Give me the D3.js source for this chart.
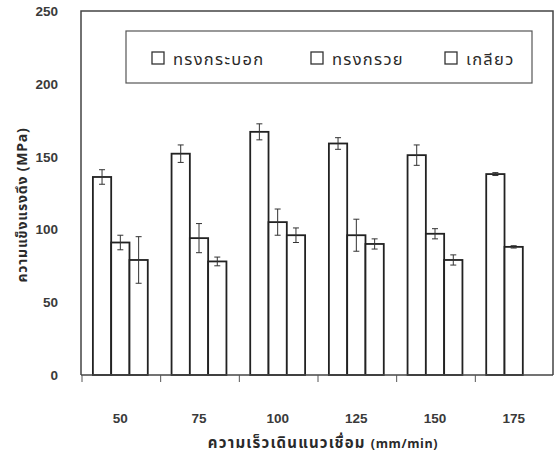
<!DOCTYPE html>
<html>
<head>
<meta charset="utf-8">
<script src="https://cdn.jsdelivr.net/npm/d3@7"></script>
<style>
  body { margin: 0; background: #fff; }
  .tick-label { font-family: "Liberation Sans", Arial, sans-serif; font-weight: bold; font-size: 13.5px; fill: #3a3a3a; }
  .thai { font-family: "Noto Sans Thai", "Loma", "Garuda", "Noto Sans", sans-serif; fill: #2a2a2a; }
</style>
</head>
<body>
<div id="chart"></div>
<script>

// data
var speeds = ["50", "75", "100", "125", "150", "175"];
var seriesNames = ["ทรงกระบอก", "ทรงกรวย", "เกลียว"];
var cylinder    = [136, 152, 167, 159, 151, 138];
var cylinderErr = [5, 6, 5.5, 4, 7, 1];
var cone        = [91, 94, 105, 96, 97, 88];
var coneErr     = [5, 10, 9, 11, 3.5, 0.8];
var thread      = [79, 78, 96, 90, 79, null];
var threadErr   = [16, 3, 5, 3.5, 3.5, null];
var yTicks = [0, 50, 100, 150, 200, 250];

var values = [cylinder, cone, thread],
    errors = [cylinderErr, coneErr, threadErr];

//--------------------------------------------------------------------------
//
// geometry
//

var outerWidth = 556,
    outerHeight = 455,
    frame = {left: 81, right: 553, top: 11, bottom: 375};

var svg = d3.select("#chart").append("svg")
    .attr("width", outerWidth)
    .attr("height", outerHeight);

var x0 = d3.scaleBand()
    .domain(speeds)
    .range([frame.left, frame.right]);

var x1 = d3.scaleBand()
    .domain(seriesNames)
    .range([0, x0.bandwidth()])
    .paddingOuter(0.65);

var y = d3.scaleLinear()
    .domain([0, 250])
    .range([frame.bottom, frame.top]);

// flatten into one row per bar
var rows = [];
speeds.forEach(function (s, i) {
    seriesNames.forEach(function (name, k) {
        if (values[k][i] == null) { return; }
        rows.push({speed: s, series: name, value: values[k][i], err: errors[k][i]});
    });
});

//--------------------------------------------------------------------------
//
// bars
//

var bars = svg.append("g").attr("class", "bars");

bars.selectAll("rect")
    .data(rows)
    .enter().append("rect")
    .attr("x", function (d) { return x0(d.speed) + x1(d.series); })
    .attr("y", function (d) { return y(d.value); })
    .attr("width", x1.bandwidth())
    .attr("height", function (d) { return y(0) - y(d.value); })
    .attr("fill", "#fff")
    .attr("stroke", "#222")
    .attr("stroke-width", 1.8);

// error bars
var eb = svg.append("g").attr("class", "errors")
    .attr("stroke", "#333")
    .attr("stroke-width", 1);

var ebs = eb.selectAll("g")
    .data(rows)
    .enter().append("g")
    .attr("transform", function (d) {
        return "translate(" + (x0(d.speed) + x1(d.series) + x1.bandwidth() / 2) + ",0)";
    });

ebs.append("line")
    .attr("y1", function (d) { return y(d.value + d.err); })
    .attr("y2", function (d) { return y(d.value - d.err); });
ebs.append("line")
    .attr("x1", -3).attr("x2", 3)
    .attr("y1", function (d) { return y(d.value + d.err); })
    .attr("y2", function (d) { return y(d.value + d.err); });
ebs.append("line")
    .attr("x1", -3).attr("x2", 3)
    .attr("y1", function (d) { return y(d.value - d.err); })
    .attr("y2", function (d) { return y(d.value - d.err); });

//--------------------------------------------------------------------------
//
// frame and axes
//

svg.append("path")
    .attr("d", "M" + frame.left + "," + frame.bottom + "V" + frame.top +
               "H" + frame.right + "V" + frame.bottom)
    .attr("fill", "none")
    .attr("stroke", "#444")
    .attr("stroke-width", 1.5);

var xAxis = svg.append("g")
    .attr("transform", "translate(0," + frame.bottom + ")");

xAxis.append("line")
    .attr("x1", frame.left).attr("x2", frame.right)
    .attr("stroke", "#444").attr("stroke-width", 1.5);

// ticks sit between groups
xAxis.selectAll(".tk")
    .data(speeds)
    .enter().append("line")
    .attr("class", "tk")
    .attr("x1", function (d) { return x0(d) + 1; })
    .attr("x2", function (d) { return x0(d) + 1; })
    .attr("y1", 0).attr("y2", 7)
    .attr("stroke", "#555").attr("stroke-width", 1);

xAxis.selectAll(".tick-label")
    .data(speeds)
    .enter().append("text")
    .attr("class", "tick-label")
    .attr("x", function (d) { return x0(d) + x0.bandwidth() / 2; })
    .attr("y", 48)
    .attr("text-anchor", "middle")
    .text(function (d) { return d; });

svg.append("g").selectAll("text")
    .data(yTicks)
    .enter().append("text")
    .attr("class", "tick-label")
    .attr("x", 58)
    .attr("y", function (d) { return y(d) + 5; })
    .attr("text-anchor", "end")
    .text(function (d) { return d; });

// axis titles
var xt = svg.append("text")
    .attr("class", "thai")
    .attr("x", 323)
    .attr("y", 448)
    .attr("text-anchor", "middle")
    .attr("font-weight", "bold")
    .attr("font-size", 15)
    .attr("letter-spacing", 1.2);
xt.append("tspan").text("ความเร็วเดินแนวเชื่อม ");
xt.append("tspan").attr("font-size", 12.5).attr("letter-spacing", 0.6).text("(mm/min)");

svg.append("text")
    .attr("class", "thai")
    .attr("transform", "translate(27,205) rotate(-90)")
    .attr("text-anchor", "middle")
    .attr("font-weight", "bold")
    .attr("font-size", 14)
    .attr("letter-spacing", 0.8)
    .text("ความแข็งแรงดึง (MPa)");

//--------------------------------------------------------------------------
//
// legend
//

var legend = svg.append("g");

legend.append("rect")
    .attr("x", 126).attr("y", 31)
    .attr("width", 406).attr("height", 52)
    .attr("fill", "#fff")
    .attr("stroke", "#555")
    .attr("stroke-width", 1.2);

var legendX = [152, 311, 445];

var li = legend.selectAll(".item")
    .data(seriesNames)
    .enter().append("g")
    .attr("class", "item")
    .attr("transform", function (d, i) { return "translate(" + legendX[i] + ",52)"; });

li.append("rect")
    .attr("width", 12).attr("height", 12)
    .attr("fill", "#fff")
    .attr("stroke", "#333")
    .attr("stroke-width", 1.3);

li.append("text")
    .attr("class", "thai")
    .attr("x", 21)
    .attr("y", 13)
    .attr("font-size", 16.5)
    .attr("letter-spacing", 1.3)
    .text(function (d) { return d; });

</script>
</body>
</html>
